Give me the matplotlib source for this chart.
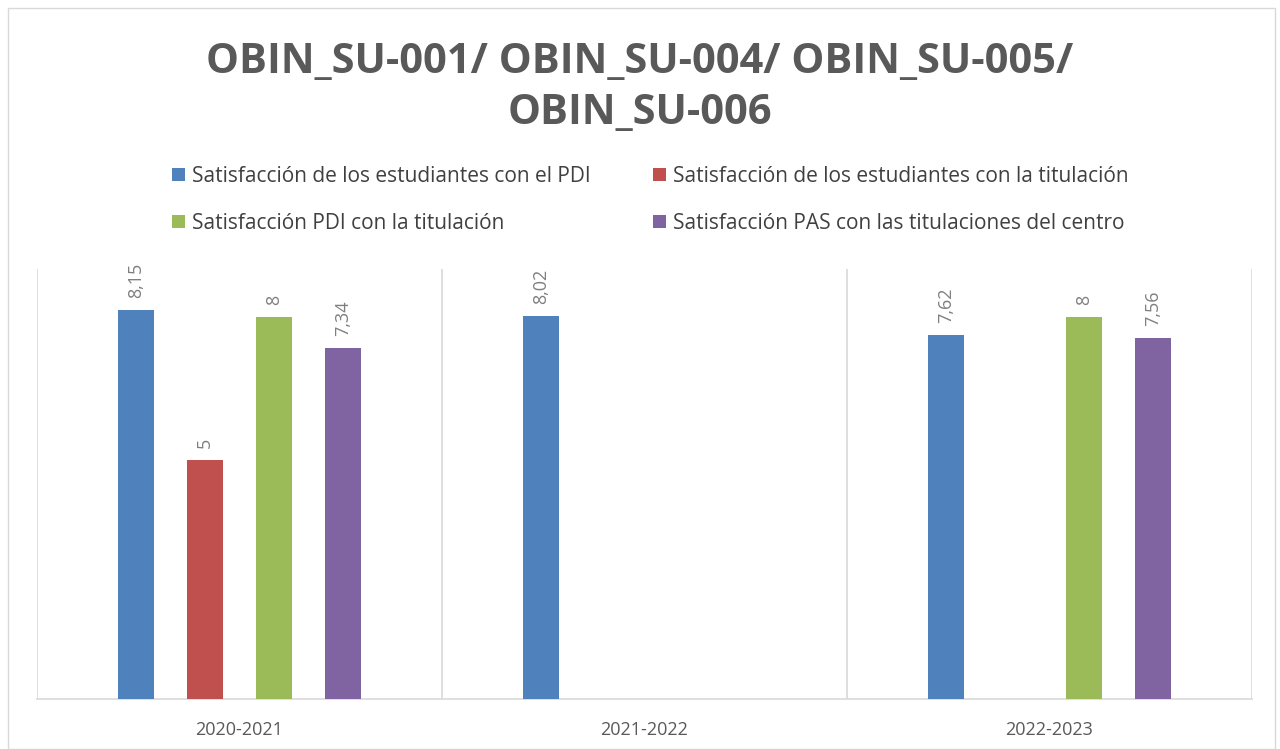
import numpy as np
import matplotlib.pyplot as plt
from matplotlib.patches import Rectangle

plt.rcParams['font.family'] = ['Open Sans', 'DejaVu Sans']

# datos
cursos = ['2020-2021', '2021-2022', '2022-2023']
series = ['Satisfacción de los estudiantes con el PDI',
          'Satisfacción de los estudiantes con la titulación',
          'Satisfacción PDI con la titulación',
          'Satisfacción PAS con las titulaciones del centro']
sat_est_pdi = [8.15, 8.02, 7.62]
sat_est_tit = [5, np.nan, np.nan]
sat_pdi_tit = [8, np.nan, 8]
sat_pas = [7.34, np.nan, 7.56]
valores = [sat_est_pdi, sat_est_tit, sat_pdi_tit, sat_pas]
colores = ['#4F81BD', '#C0504D', '#9BBB59', '#8064A2']

fig = plt.figure(figsize=(12.8, 7.49), dpi=100)
ax = fig.add_axes([37/1280, 50/749, (1252-37)/1280, (700-270)/749])

x = np.arange(len(cursos))
paso = 0.170
ancho = 0.089
barras = []
for i, (vals, c, lab) in enumerate(zip(valores, colores, series)):
    pos = x + (i - 1.5) * paso
    b = ax.bar(pos, vals, width=ancho, color=c, label=lab, zorder=3)
    barras.append(b)
    for p, v in zip(pos, vals):
        if np.isnan(v):
            continue
        txt = ('%g' % v).replace('.', ',')
        ax.text(p, v + 0.25, txt, rotation=90, ha='center', va='bottom',
                fontsize=13, color='#7f7f7f')

ax.set_xlim(-0.5, 2.5)
ax.set_ylim(0, 9)
ax.set_yticks([])
ax.set_xticks(x)
ax.set_xticklabels(cursos, fontsize=13, color='#595959')
ax.tick_params(axis='x', length=0, pad=16)
# líneas separadoras entre categorías
for b in [-0.5, 0.5, 1.5, 2.5]:
    ax.axvline(b, color='#d9d9d9', lw=1.2, zorder=1)
for s in ['top', 'right', 'left']:
    ax.spines[s].set_visible(False)
ax.spines['bottom'].set_color('#d9d9d9')
ax.spines['bottom'].set_linewidth(1.2)

fig.text(0.5, 1 - 88/749, 'OBIN_SU-001/ OBIN_SU-004/ OBIN_SU-005/\nOBIN_SU-006',
         ha='center', va='center', fontsize=30, fontweight='bold',
         color='#595959', linespacing=1.3)

# leyenda por filas (como en el original)
orden = [0, 2, 1, 3]
fig.legend([barras[k] for k in orden], [series[k] for k in orden],
           loc='center', bbox_to_anchor=(0.508, 1 - 200/749), ncol=2,
           frameon=False, fontsize=15, handlelength=0.6, handleheight=0.6,
           handletextpad=0.35, columnspacing=3.0, labelspacing=1.25,
           labelcolor='#404040')

fig.patches.append(Rectangle((8/1280, 0), 1267/1280, 1 - 8/749,
                             transform=fig.transFigure, fill=False,
                             edgecolor='#d9d9d9', lw=1))

plt.savefig('out.png', dpi=100)
